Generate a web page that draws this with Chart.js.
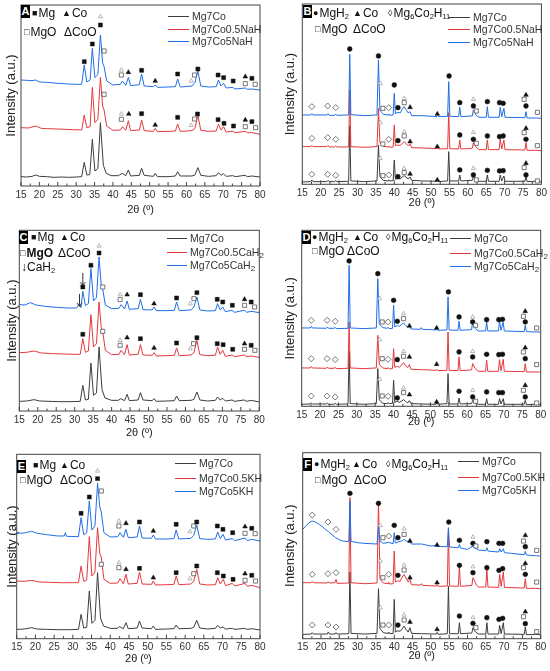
<!DOCTYPE html>
<html>
<head>
<meta charset="utf-8">
<script src="https://cdn.jsdelivr.net/npm/chart.js@4.4.1/dist/chart.umd.min.js"></script>
<style>
  body { margin: 0; background: #fff; font-family: Arial, "Liberation Sans", sans-serif; }
  #fig { position: relative; width: 550px; height: 671px; overflow: hidden; }
  #fig canvas { position: absolute; }
  .txt { position: absolute; white-space: nowrap; line-height: 14px; transform: translateY(-50%); color: #111; }
  .key { font-size: 12px; }
  .key i { font-style: normal; font-size: 9px; margin-right: 1px; vertical-align: 1px; }
  .key sub { font-size: 7.5px; vertical-align: -2px; line-height: 0; }
  .leg { font-size: 10.5px; color: #333; }
  .leg sub { font-size: 8px; vertical-align: -2px; line-height: 0; }
  .swatch { position: absolute; height: 0; border-top: 1.3px solid; }
  .tag { position: absolute; background: #000; color: #fff; font-weight: bold; font-size: 11px;
         width: 9px; height: 13px; line-height: 13px; text-align: center; }
</style>
</head>
<body>
<div id="fig"></div>
<script>
// ---- data (y in arbitrary intensity units) ----
const seriesNaH = ['Mg7Co', 'Mg7Co0.5NaH', 'Mg7Co5NaH'];
const seriesCaH = ['Mg7Co', 'Mg7Co0.5CaH<sub>2</sub>', 'Mg7Co5CaH<sub>2</sub>'];
const seriesKH = ['Mg7Co', 'Mg7Co0.5KH', 'Mg7Co5KH'];
const xTicks = [15, 20, 25, 30, 35, 40, 45, 50, 55, 60, 65, 70, 75, 80];

// panel A (milled, NaH)
const aBlack = [[15,28],[16.5,27],[18,29],[19,33],[20,29],[22,28],[24,26],[26,27],[28,26],[30,27],[31.5,28],[32.2,71],[32.9,33],[33.7,34],[34.4,140],[35.1,45],[35.9,52],[36.6,190],[37.4,62],[38.2,38],[39.5,31],[41.5,31],[42.5,38],[43.5,31],[44.2,48],[44.8,30],[47.2,32],[47.8,53],[48.5,32],[51,29],[51.5,38],[52.1,28],[55,28],[57,30],[57.6,43],[58.3,30],[61.5,30],[62.3,33],[63.1,55],[63.9,32],[66,29],[68.1,31],[68.7,40],[69.4,32],[70,37],[70.8,29],[72.6,31],[73.3,28],[75.9,32],[76.6,28],[77.8,30],[80,27]];
const aRed = [[15,175],[17,174],[19,180],[20.5,173],[22,172],[25,171],[27,170],[29,169],[31.5,168],[32.2,213],[32.9,175],[33.8,178],[34.4,296],[35.1,190],[35.9,200],[36.6,326],[37.2,240],[37.6,228],[38.3,180],[40,167],[42,168],[42.6,178],[43.5,167],[44.2,196],[44.8,166],[47.2,168],[47.8,198],[48.5,166],[51,164],[51.5,173],[52.1,163],[55,164],[57,165],[57.6,186],[58.3,164],[61.5,166],[62.3,172],[63.1,213],[63.9,167],[66,164],[68.1,165],[68.7,186],[69.4,168],[70.1,178],[70.8,162],[72.6,165],[73.2,160],[76,164],[76.6,160],[77.8,160],[80,155]];
const aBlue = [[15,318],[16.5,317],[18,316],[19,318],[20,312],[22,311],[25,308],[28,306],[30,305],[31.5,305],[32.2,363],[32.9,312],[33.8,318],[34.4,413],[35.1,325],[35.9,335],[36.6,453],[37.2,370],[37.6,358],[38.3,315],[40,303],[42,305],[42.6,315],[43.5,302],[44.2,326],[44.8,301],[47.2,304],[47.8,336],[48.5,300],[51,298],[51.5,303],[52.1,296],[55,297],[57,298],[57.6,321],[58.3,297],[61.5,300],[62.3,310],[63.1,345],[63.9,300],[66,297],[68.1,298],[68.7,318],[69.4,300],[70.1,308],[70.8,294],[72.6,296],[73.2,291],[76,294],[76.6,290],[77.8,291],[80,288]];
const aMarks = [
  ['sq',32.2,373],['sq',34.4,426],['sq',36.6,483],['otri',36.6,508],['osq',37.6,405],['otri',42.3,348],['osq',42.3,333],['tri',44.2,341],['sq',47.8,347],['tri',51.5,315],['sq',57.6,336],['otri',61.3,315],['osq',62.2,333],['sq',63.1,351],['sq',68.6,333],['sq',70.1,325],['sq',72.7,315],['tri',76,328],['osq',76,307],['sq',77.8,323],['osq',78.7,305],
  ['osq',37.6,275],['otri',42.3,216],['osq',42.3,200],['tri',44.3,216],['sq',47.8,217],['tri',51.5,183],['sq',57.6,206],['otri',61.3,182],['osq',62.2,201],['sq',63,216],['sq',68.6,199],['sq',70.2,188],['sq',72.8,180],['tri',76,198],['osq',76,178],['sq',77.8,193],['osq',78.8,175]
];

// panel B (hydrided, NaH)
const bBlack = [[15,7],[17.3,8],[17.6,13],[17.9,8],[21.7,8],[22,12],[22.3,8],[23.8,8],[24.1,11],[24.4,8],[27.6,9],[27.9,175],[28.2,10],[32,8],[35.3,10],[35.7,118],[36.1,22],[36.5,18],[37,12],[38.3,10],[38.5,13],[38.8,10],[39.7,11],[40,73],[40.3,15],[41,18],[41.6,16],[42.2,22],[42.7,26],[43.2,21],[43.8,16],[44.3,22],[44.7,12],[47.5,10],[51.5,9],[51.7,13],[52,8],[54.5,10],[54.8,98],[55.1,10],[57.5,10],[57.8,28],[58.1,10],[61.2,12],[61.5,23],[62.2,14],[63,9],[65,9],[65.3,28],[65.6,9],[68.5,9],[68.8,28],[69.2,10],[69.8,25],[70.1,9],[75.5,9],[75.8,23],[76.1,8],[78.5,9],[80,7]];
const bRed = [[15,113],[17.3,113],[17.6,117],[17.9,113],[21.7,113],[22,117],[22.3,112],[23.8,112],[24.1,115],[24.4,112],[27.6,112],[27.9,283],[28.2,113],[32,111],[35.3,113],[35.7,228],[36.1,125],[36.5,120],[37,114],[38.3,112],[38.5,115],[38.8,111],[39.7,112],[40,178],[40.3,116],[41,118],[41.6,116],[42.2,123],[42.7,128],[43.2,122],[43.8,115],[44.3,121],[44.7,110],[47.5,109],[51.5,107],[51.7,110],[52,106],[54.5,107],[54.8,215],[55.1,107],[57.5,106],[57.8,133],[58.1,106],[61.2,108],[61.5,125],[62.2,112],[63,104],[65,104],[65.3,133],[65.6,104],[68.5,104],[68.8,135],[69.2,106],[69.8,133],[70.1,104],[75.5,103],[75.8,125],[76.1,102],[78.5,102],[80,101]];
const bBlue = [[15,208],[17.3,208],[17.6,212],[17.9,208],[21.7,208],[22,212],[22.3,207],[23.8,207],[24.1,211],[24.4,207],[27.6,208],[27.9,390],[28.2,209],[32,206],[35.3,208],[35.7,373],[36.1,222],[36.5,216],[37,210],[38.3,208],[38.5,211],[38.8,207],[39.7,208],[40,273],[40.3,212],[41,216],[41.6,214],[42.2,226],[42.7,233],[43.2,224],[43.8,214],[44.3,218],[44.7,206],[47.5,206],[51.5,203],[51.7,207],[52,203],[54.5,204],[54.8,308],[55.1,204],[57.5,203],[57.8,231],[58.1,203],[61.2,205],[61.5,223],[62.2,208],[63,201],[65,201],[65.3,233],[65.6,201],[68.5,201],[68.8,231],[69.2,203],[69.8,228],[70.1,201],[75.5,200],[75.8,218],[76.1,199],[78.5,199],[80,198]];
const bMarks = [
  ['dot',27.9,406],['dot',35.7,385],['otri',36.2,303],['dot',40,298],['dia',17.6,233],['dia',21.9,235],['dia',24.1,230],['osq',36.9,228],['dia',38.5,230],['dot',41,230],['otri',42.7,258],['osq',42.7,245],['tri',44.3,231],['tri',51.7,211],['dot',54.9,325],['dot',57.8,245],['otri',61.5,255],['dot',61.5,235],['osq',62.3,220],['dot',65.3,248],['dot',68.6,245],['dot',69.6,243],['osq',75.3,255],['tri',75.8,268],['dot',75.8,235],['osq',78.9,216],
  ['dia',17.6,138],['dia',21.9,140],['dia',24.1,135],['otri',36.2,185],['osq',36.9,121],['dia',38.5,135],['dot',41,131],['otri',42.7,158],['osq',42.7,145],['tri',44.3,128],['tri',51.7,113],['dot',57.8,148],['otri',61.5,156],['dot',61.5,135],['osq',62.3,123],['dot',65.3,145],['dot',68.6,143],['dot',69.6,145],['osq',75.3,155],['tri',75.8,168],['dot',75.8,135],['osq',78.9,116],
  ['dia',17.6,30],['dia',21.9,30],['dia',24.1,27],['otri',36.2,78],['osq',36.9,26],['dia',38.5,28],['dot',41,23],['otri',42.7,48],['osq',42.7,35],['tri',44.3,31],['tri',51.7,13],['dot',57.8,43],['otri',61.5,48],['dot',61.5,28],['osq',62.3,13],['dot',65.3,42],['dot',68.6,40],['dot',69.6,41],['osq',75.3,50],['tri',75.8,63],['dot',75.8,28],['osq',78.9,10]
];

// panel C (milled, CaH2)
const cBlack = [[15,29],[17,30],[19,34],[20.5,30],[23,29],[26,28],[29,28],[31.5,29],[32.2,77],[32.9,33],[33.7,35],[34.4,144],[35.1,47],[35.9,54],[36.6,192],[37.4,64],[38.2,39],[40,32],[41.8,32],[42.5,37],[43.5,31],[44.2,50],[44.8,31],[47.2,33],[47.8,55],[48.5,33],[51,31],[51.5,37],[52.1,29],[55,30],[57,31],[57.6,45],[58.3,31],[61.5,32],[62.3,35],[63.1,57],[63.9,33],[66,30],[68.1,32],[68.7,42],[69.4,33],[70.1,38],[70.8,30],[72.6,33],[73.3,29],[75.9,33],[76.6,29],[77.8,32],[80,27]];
const cRed = [[15,175],[17,176],[19,180],[21,174],[24,172],[27,171],[30,170],[31.5,170],[32.2,217],[32.9,176],[33.7,180],[34.4,289],[35.1,192],[35.9,202],[36.6,327],[37.2,250],[37.6,238],[38.3,182],[40,169],[42,170],[42.6,182],[43.5,169],[44.2,199],[44.8,168],[47.2,170],[47.8,199],[48.5,168],[51,167],[51.5,175],[52.1,165],[55,166],[57,167],[57.6,189],[58.3,166],[61.5,168],[62.3,175],[63.1,212],[63.9,169],[66,166],[68.1,167],[68.7,192],[69.4,170],[70.1,182],[70.8,164],[72.6,168],[73.3,163],[76,168],[76.6,163],[77.8,165],[80,161]];
const cBlue = [[15,319],[16.5,318],[18,325],[19.5,318],[22,314],[25,311],[28,309],[30.5,309],[31.3,322],[31.7,310],[32.2,359],[32.9,316],[33.7,322],[34.4,427],[35.1,330],[35.9,340],[36.6,462],[37.2,375],[37.6,365],[38.3,318],[40,307],[42,308],[42.6,319],[43.5,306],[44.2,330],[44.8,305],[47.2,307],[47.8,335],[48.5,304],[51,303],[51.5,312],[52.1,301],[55,301],[57,302],[57.6,327],[58.3,301],[61.5,303],[62.3,312],[63.1,342],[63.9,303],[66,300],[68.1,301],[68.7,322],[69.4,303],[70.1,312],[70.8,298],[72.6,302],[73.3,296],[76,302],[76.6,296],[77.8,299],[80,295]];
const cMarks = [
  ['arr',31.3,332],['arr',32.2,394],['sq',32.2,372],['sq',34.4,437],['sq',36.6,474],['otri',36.6,495],['osq',37.6,372],['otri',42.3,349],['osq',42.3,334],['tri',44.2,349],['sq',47.8,349],['tri',51.5,322],['sq',57.6,339],['otri',61.3,322],['osq',62.3,337],['sq',63.1,355],['sq',68.6,335],['sq',70.1,327],['sq',72.7,317],['tri',76,335],['osq',76,317],['sq',77.8,327],['osq',78.7,312],
  ['sq',32.2,230],['osq',37.6,239],['otri',42.3,212],['osq',42.3,197],['tri',44.2,220],['sq',47.8,217],['tri',51.5,189],['sq',57.6,204],['otri',61.3,187],['osq',62.2,202],['sq',63.1,220],['sq',68.6,202],['sq',70.2,199],['sq',72.8,185],['tri',76,202],['osq',76,185],['sq',77.8,197],['osq',78.8,182]
];

// panel D (hydrided, CaH2)
const dBlack = [[15,6],[17.3,7],[17.6,10],[17.9,7],[21.7,7],[22,10],[22.3,6],[23.8,6],[24.1,9],[24.4,6],[27.6,7],[27.9,165],[28.2,8],[32,6],[35.3,8],[35.7,113],[36.1,20],[36.5,15],[37,9],[38.3,8],[38.5,11],[38.8,8],[39.7,9],[40,78],[40.3,12],[41,15],[41.6,12],[42.2,16],[42.7,20],[43.2,15],[43.8,10],[44.3,17],[44.7,8],[47.5,7],[51.5,6],[51.7,10],[52,6],[54.5,8],[54.8,98],[55.1,7],[57.5,7],[57.8,25],[58.1,7],[61.2,8],[61.5,18],[62.2,11],[63,6],[65,6],[65.3,23],[65.6,6],[68.5,6],[68.8,23],[69.2,7],[69.8,23],[70.1,6],[75.5,6],[75.8,18],[76.1,5],[78.5,6],[80,5]];
const dRed = [[15,115],[17.3,115],[17.6,119],[17.9,115],[21.7,114],[22,118],[22.3,114],[23.8,114],[24.1,117],[24.4,113],[27.6,114],[27.9,253],[28.2,115],[32,113],[35.3,115],[35.7,213],[36.1,126],[36.5,121],[37,115],[38.3,113],[38.5,116],[38.8,112],[39.7,113],[40,173],[40.3,117],[41,120],[41.6,117],[42.2,124],[42.7,131],[43.2,123],[43.8,116],[44.3,125],[44.7,111],[47.5,110],[51.5,108],[51.7,111],[52,107],[54.5,108],[54.8,223],[55.1,108],[57.5,107],[57.8,148],[58.1,107],[61.2,109],[61.5,128],[62.2,113],[63,105],[65,105],[65.3,138],[65.6,105],[68.5,105],[68.8,140],[69.2,107],[69.8,141],[70.1,105],[75.5,104],[75.8,128],[76.1,103],[78.5,103],[80,103]];
const dBlue = [[15,235],[17.3,235],[17.6,240],[17.9,235],[21.7,234],[22,238],[22.3,234],[23.8,234],[24.1,237],[24.4,233],[27.6,234],[27.9,423],[28.2,235],[32,233],[35.3,235],[35.7,383],[36.1,248],[36.5,242],[37,236],[38.3,234],[38.5,237],[38.8,233],[39.7,234],[40,303],[40.3,238],[41,242],[41.6,240],[42.2,246],[42.7,250],[43.2,244],[43.8,237],[44.3,243],[44.7,232],[47.2,231],[47.5,236],[47.8,231],[51.5,229],[51.7,232],[52,228],[54.5,229],[54.8,328],[55.1,229],[57.5,228],[57.8,255],[58.1,228],[61.2,230],[61.5,253],[62.2,233],[63,226],[65,226],[65.3,253],[65.6,226],[68.5,226],[68.8,255],[69.2,228],[69.8,252],[70.1,226],[75.5,224],[75.8,243],[76.1,224],[78.5,223],[80,223]];
const dMarks = [
  ['dot',27.9,436],['dot',35.7,398],['otri',36.2,323],['dot',40,318],['dia',17.6,258],['dia',21.9,258],['dia',24.1,255],['osq',36.9,253],['dia',38.5,253],['dot',41,255],['otri',42.7,278],['osq',42.7,263],['tri',44.3,241],['tri',51.7,235],['dot',54.9,343],['dot',57.8,268],['otri',61.5,268],['dot',61.5,253],['osq',62.3,243],['dot',65.3,260],['dot',68.6,260],['dot',69.6,261],['osq',75.3,270],['tri',75.8,285],['dot',75.8,253],['osq',78.9,235],
  ['dia',17.6,143],['dia',21.9,143],['dia',24.1,140],['otri',36.2,200],['osq',36.9,143],['dia',38.5,141],['dot',41,140],['otri',42.7,165],['osq',42.7,150],['tri',44.3,148],['tri',51.7,126],['dot',57.8,163],['otri',61.5,165],['dot',61.5,148],['dot',65.3,156],['dot',68.6,155],['dot',69.6,156],['osq',75.3,163],['tri',75.8,176],['dot',75.8,143],['osq',78.9,125],
  ['dia',17.6,31],['dia',21.9,31],['dia',24.1,28],['otri',36.2,81],['osq',36.9,31],['dia',38.5,30],['dot',41,25],['otri',42.7,55],['osq',42.7,41],['tri',44.3,35],['tri',51.7,13],['dot',57.8,45],['otri',61.5,48],['dot',61.5,28],['osq',62.3,15],['dot',65.3,43],['dot',68.6,41],['dot',69.6,41],['osq',75.3,48],['tri',75.8,63],['dot',75.8,28],['osq',78.9,10]
];

// panel E (milled, KH)
const eBlack = [[15,28],[17,29],[19,33],[20.5,29],[23,28],[26,27],[29,27],[31.5,28],[32.2,73],[32.9,32],[33.7,34],[34.4,143],[35.1,46],[35.9,55],[36.6,198],[37.4,62],[38.2,38],[40,31],[41.8,31],[42.5,36],[43.5,30],[44.2,48],[44.8,30],[47.2,32],[47.8,53],[48.5,32],[51,30],[51.5,38],[52.1,28],[55,29],[57,30],[57.6,41],[58.3,30],[61.5,31],[62.3,34],[63.1,55],[63.9,32],[66,29],[68.1,31],[68.7,40],[69.4,32],[70.1,35],[70.8,29],[72.6,31],[73.3,28],[75.9,31],[76.6,28],[77.8,30],[80,26]];
const eRed = [[15,173],[17,172],[19,175],[21,170],[24,169],[27,168],[30,168],[31.5,168],[32.2,218],[32.9,172],[33.7,176],[34.4,306],[35.1,188],[35.9,200],[36.6,333],[37.2,255],[37.6,245],[38.3,178],[40,166],[42,167],[42.6,180],[43.5,165],[44.2,193],[44.8,164],[47.2,166],[47.8,200],[48.5,164],[51,163],[51.5,173],[52.1,161],[55,162],[57,163],[57.6,188],[58.3,162],[61.5,164],[62.3,172],[63.1,208],[63.9,164],[66,161],[68.1,162],[68.7,183],[69.4,164],[70.2,178],[70.8,159],[72.6,166],[73.3,158],[76,166],[76.6,157],[77.8,160],[80,153]];
const eBlue = [[15,316],[17,317],[19,322],[20.5,316],[23,312],[26,308],[27.7,308],[28,318],[28.3,307],[31.5,306],[32.2,363],[32.9,312],[33.7,318],[34.4,413],[35.1,326],[35.9,338],[36.6,466],[37.2,395],[37.6,380],[38.3,318],[40,305],[42,306],[42.6,318],[43.5,304],[44.2,328],[44.8,303],[47.2,305],[47.8,338],[48.5,302],[51,301],[51.5,311],[52.1,299],[55,299],[57,300],[57.6,326],[58.3,299],[61.5,301],[62.3,310],[63.1,341],[63.9,300],[66,298],[68.1,299],[68.7,320],[69.4,300],[70.1,313],[70.8,296],[72.6,300],[73.3,294],[76,302],[76.6,294],[77.8,298],[80,293]];
const eMarks = [
  ['sq',32.2,376],['sq',34.4,425],['sq',36.6,480],['otri',36.6,503],['osq',37.6,443],['otri',42.3,353],['osq',42.3,338],['tri',44.2,346],['sq',47.8,350],['tri',51.5,323],['sq',57.6,343],['otri',61.3,321],['osq',62.3,338],['sq',63.1,350],['sq',68.6,338],['sq',70.1,328],['sq',72.7,318],['tri',76,336],['osq',76,316],['sq',77.8,331],['osq',78.7,315],
  ['osq',37.6,223],['otri',42.3,228],['osq',42.3,213],['tri',44.2,208],['sq',47.8,211],['tri',51.5,183],['sq',57.6,198],['otri',61.3,180],['osq',62.3,195],['sq',63.1,218],['sq',68.6,198],['sq',70.2,188],['sq',72.8,178],['tri',76,195],['osq',76,175],['sq',77.8,190],['osq',78.8,173]
];

// panel F (hydrided, KH)
const fBlack = [[15,13],[17.3,14],[17.6,18],[17.9,14],[21.7,14],[22,20],[22.3,14],[23.8,14],[24.1,18],[24.4,14],[27.6,15],[27.9,200],[28.2,16],[32,14],[35.3,16],[35.7,150],[36.1,30],[36.5,26],[37,18],[38.3,16],[38.5,20],[38.8,15],[39.7,16],[40,118],[40.3,20],[41,24],[41.6,22],[42.2,30],[42.7,38],[43.2,28],[43.8,20],[44.3,33],[44.7,16],[47.5,15],[51.5,14],[51.7,19],[52,13],[54.5,15],[54.8,158],[55.1,15],[57.5,15],[57.8,48],[58.1,15],[61.2,17],[61.5,33],[62.2,20],[63,14],[65,14],[65.3,48],[65.6,14],[68.5,14],[68.8,40],[69.2,15],[69.8,48],[70.1,14],[75.5,13],[75.8,35],[76.1,12],[78.5,13],[80,12]];
const fRed = [[15,168],[17.3,168],[17.6,172],[17.9,168],[21.7,167],[22,171],[22.3,167],[23.8,168],[24.1,178],[24.4,166],[27.6,167],[27.9,423],[28.2,168],[32,165],[35.3,167],[35.7,413],[36.1,180],[36.5,174],[37,167],[38.3,165],[38.5,169],[38.8,164],[39.7,165],[40,263],[40.3,170],[41,174],[41.6,172],[42.2,185],[42.7,193],[43.2,182],[43.8,170],[44.3,178],[44.7,162],[47.2,161],[47.5,165],[47.8,160],[51.5,158],[51.7,162],[52,157],[54.5,158],[54.8,328],[55.1,158],[57.5,157],[57.8,218],[58.1,157],[61.2,160],[61.5,183],[62,172],[62.5,160],[63,155],[65,155],[65.3,208],[65.6,155],[68.5,154],[68.8,193],[69.2,157],[69.8,200],[70.1,154],[75.5,152],[75.8,180],[76.1,151],[78.5,151],[80,150]];
const fBlue = [[15,328],[16,340],[17,350],[17.6,353],[18.5,350],[19.5,343],[20.5,335],[21.5,325],[22,322],[23,312],[24,303],[25,297],[26,293],[27.6,291],[27.9,413],[28.2,292],[30,288],[32,286],[35.3,284],[35.7,338],[36.1,292],[36.5,290],[37,286],[38.5,289],[39.7,285],[40,318],[40.3,287],[41,290],[42.2,294],[42.7,298],[43.2,293],[44.3,292],[44.7,284],[47.5,284],[50,278],[51.7,280],[52,277],[54.5,276],[54.8,333],[55.1,275],[57.5,273],[57.8,283],[58.1,272],[60,268],[61.5,278],[62.2,271],[63,266],[65,264],[65.3,273],[65.6,263],[68.5,260],[68.8,270],[69.2,260],[69.8,270],[70.1,258],[72,256],[75.5,252],[75.8,262],[76.1,251],[78.5,249],[80,248]];
const fMarks = [
  ['dia',17.6,371],['dia',21.9,350],['dia',24.1,328],['dot',27.9,436],['dot',35.7,406],['otri',36.2,340],['osq',36.9,303],['dia',38.5,308],['dot',40,340],['dot',41,303],['otri',42.7,330],['osq',42.7,313],['tri',44.3,293],['tri',51.7,281],['dot',54.9,350],['dot',57.8,295],['otri',61.5,305],['dot',61.5,286],['osq',62.3,278],['dot',65.3,291],['dot',68.6,286],['dot',69.6,286],['osq',75.3,293],['tri',75.8,310],['dot',75.8,276],['osq',78.9,265],
  ['dia',17.6,193],['dia',21.9,195],['dia',24.1,198],['otri',36.2,233],['osq',36.9,183],['dia',38.5,193],['dot',41,190],['otri',42.7,221],['osq',42.7,206],['tri',44.3,183],['tri',51.7,168],['dot',57.8,220],['otri',61.5,216],['dot',61.5,198],['dot',65.3,213],['dot',68.6,205],['dot',69.6,210],['osq',75.3,213],['tri',75.8,226],['dot',75.8,193],['osq',78.9,170],
  ['dia',17.6,41],['dia',21.9,41],['dia',24.1,35],['otri',36.2,93],['osq',36.9,41],['dia',38.5,41],['dot',41,41],['otri',42.7,71],['osq',42.7,56],['tri',44.3,50],['tri',51.7,28],['dot',57.8,68],['otri',61.5,63],['dot',61.5,46],['osq',62.3,33],['dot',65.3,63],['dot',68.6,58],['dot',69.6,61],['osq',75.3,66],['tri',75.8,81],['dot',75.8,45],['osq',78.9,21]
];

// ---- styling ----
const lineColors = ['#3d3d3d', '#e5383e', '#1f6ee6'];
const FONT = 'Arial, "Liberation Sans", sans-serif';
Chart.defaults.font.family = FONT;

const arrowImg = document.createElement('canvas');
arrowImg.width = 7; arrowImg.height = 13;
(function () {
  const g = arrowImg.getContext('2d');
  g.strokeStyle = '#333'; g.lineWidth = 1;
  g.beginPath();
  g.moveTo(3.5, 0); g.lineTo(3.5, 12);
  g.moveTo(1, 9); g.lineTo(3.5, 12.5); g.lineTo(6, 9);
  g.stroke();
})();

const markStyles = {
  sq:   { pointStyle: 'rect',     radius: 2.8, bg: '#111', border: '#111', bw: 0.5 },
  osq:  { pointStyle: 'rect',     radius: 2.9, bg: '#fff', border: '#555', bw: 0.8 },
  tri:  { pointStyle: 'triangle', radius: 2.7, bg: '#111', border: '#111', bw: 0.5 },
  otri: { pointStyle: 'triangle', radius: 2.4, bg: '#fff', border: '#999', bw: 0.7 },
  dot:  { pointStyle: 'circle',   radius: 2.4, bg: '#111', border: '#111', bw: 0.5 },
  dia:  { pointStyle: 'rectRot',  radius: 3.0, bg: '#fff', border: '#555', bw: 0.8 },
  arr:  { pointStyle: arrowImg,   radius: 4,   bg: '#333', border: '#333', bw: 1 }
};

// frame + inward bottom ticks
const frameTicks = {
  id: 'frameTicks',
  afterDatasetsDraw(chart) {
    const { ctx, chartArea: a, scales: { x } } = chart;
    ctx.save();
    ctx.strokeStyle = '#444';
    ctx.lineWidth = 1;
    ctx.strokeRect(a.left, a.top, a.right - a.left, a.bottom - a.top);
    for (let i = 0; i < xTicks.length; i++) {
      const px = x.getPixelForValue(xTicks[i]);
      ctx.beginPath(); ctx.moveTo(px, a.bottom); ctx.lineTo(px, a.bottom - 4); ctx.stroke();
      if (i < xTicks.length - 1) {
        const pm = x.getPixelForValue((xTicks[i] + xTicks[i + 1]) / 2);
        ctx.beginPath(); ctx.moveTo(pm, a.bottom); ctx.lineTo(pm, a.bottom - 2.5); ctx.stroke();
      }
    }
    ctx.restore();
  }
};

const kMgH2 = '<i>&#9679;</i>MgH<sub>2</sub>';
const kCo = '<i>&#9650;</i>Co';
const kHyd = '<i>&#9674;</i>Mg<sub>6</sub>Co<sub>2</sub>H<sub>11</sub>';
const kMgO = '<i>&#9633;</i>MgO';
const kCoO = '&Delta;CoO';
const kMg = '<i>&#9632;</i>Mg';

// geometry per panel: cell box, chart area inside it, title offsets, text positions
const panels = [
  { tag: 'A', cell: [0, 0, 275, 222], area: [21, 5, 260, 186], ymax: 543, yPad: 3.2, xPad: 5.4,
    lines: [aBlack, aRed, aBlue], marks: aMarks, names: seriesNaH,
    tagPos: [21, 5], key: [[32, 13, kMg], [62, 13, kCo], [24, 32, kMgO], [64, 32, kCoO]],
    leg: [168, 192, [16, 28.5, 41]] },
  { tag: 'B', cell: [275, 0, 275, 222], area: [27.3, 4, 266.7, 184.3], ymax: 541, yPad: 7.2, xPad: 12.4,
    lines: [bBlack, bRed, bBlue], marks: bMarks, names: seriesNaH,
    tagPos: [303, 5], key: [[313, 13, kMgH2], [353, 13, kCo], [388, 13, kHyd], [315, 29, kMgO], [353, 29, kCoO]],
    leg: [448, 473, [17, 29, 42]] },
  { tag: 'C', cell: [0, 222, 275, 224], area: [19.3, 8.3, 259.3, 189], ymax: 542, yPad: 4.2, xPad: 6.4,
    lines: [cBlack, cRed, cBlue], marks: cMarks, names: seriesCaH,
    tagPos: [19, 231], key: [[31, 237, kMg], [60, 237, kCo], [20, 253, '<b>' + kMgO + '</b>'], [58, 253, kCoO], [21, 267, '&darr;CaH<sub>2</sub>']],
    leg: [167, 190, [238, 252, 265]] },
  { tag: 'D', cell: [275, 222, 275, 224], area: [26.7, 8.3, 265.7, 184.3], ymax: 528, yPad: 7.2, xPad: 17.4,
    lines: [dBlack, dRed, dBlue], marks: dMarks, names: seriesCaH,
    tagPos: [302, 231], key: [[312, 237, kMgH2], [353, 237, kCo], [386, 237, kHyd], [312, 251, kMgO], [347, 251, kCoO]],
    leg: [450, 474, [238, 253, 266]] },
  { tag: 'E', cell: [0, 446, 275, 225], area: [16.7, 8.3, 260, 192.7], ymax: 553, yPad: 4.2, xPad: 5.4,
    lines: [eBlack, eRed, eBlue], marks: eMarks, names: seriesKH,
    tagPos: [17, 460], key: [[33, 465, kMg], [60, 465, kCo], [20, 480, kMgO], [60, 480, kCoO]],
    leg: [175, 199, [463, 478, 491]] },
  { tag: 'F', cell: [275, 446, 275, 225], area: [27.7, 6.7, 265.7, 192.7], ymax: 558, yPad: 7.2, xPad: 8.4,
    lines: [fBlack, fRed, fBlue], marks: fMarks, names: seriesKH,
    tagPos: [303, 458], key: [[314, 464, kMgH2], [352, 464, kCo], [386, 464, kHyd], [315, 480, kMgO], [354, 480, kCoO]],
    leg: [458, 482, [461, 477, 490]] }
];

const fig = document.getElementById('fig');

function addText(cls, x, y, html) {
  const d = document.createElement('div');
  d.className = 'txt ' + cls;
  d.style.left = x + 'px';
  d.style.top = y + 'px';
  d.innerHTML = html;
  fig.appendChild(d);
  return d;
}

function markerDatasets(marks) {
  const out = [];
  Object.keys(markStyles).forEach(sym => {
    const pts = marks.filter(m => m[0] === sym).map(m => ({ x: m[1], y: m[2] }));
    if (!pts.length) return;
    const s = markStyles[sym];
    out.push({
      type: 'scatter', data: pts, order: 0, showLine: false,
      pointStyle: s.pointStyle, pointRadius: s.radius, pointHoverRadius: s.radius,
      pointBackgroundColor: s.bg, pointBorderColor: s.border, pointBorderWidth: s.bw
    });
  });
  return out;
}

panels.forEach(p => {
  const [cx, cy, cw, ch] = p.cell;
  const [al, at, ar, ab] = p.area;
  const cv = document.createElement('canvas');
  cv.width = cw; cv.height = ch;
  cv.style.left = cx + 'px'; cv.style.top = cy + 'px';
  cv.style.width = cw + 'px'; cv.style.height = ch + 'px';
  fig.appendChild(cv);

  const traces = p.lines.map((arr, i) => ({
    type: 'line', label: p.names[i], order: 3 - i,
    data: arr.map(([x, y]) => ({ x, y })),
    borderColor: lineColors[i], borderWidth: 1, pointRadius: 0, tension: 0
  }));

  new Chart(cv, {
    type: 'line',
    data: { datasets: traces.concat(markerDatasets(p.marks)) },
    options: {
      responsive: false,
      animation: false,
      events: [],
      layout: { padding: { left: 0, top: at, right: cw - ar, bottom: 0 } },
      plugins: { legend: { display: false }, tooltip: { enabled: false } },
      scales: {
        x: {
          type: 'linear', min: 15, max: 80,
          afterBuildTicks: s => { s.ticks = xTicks.map(v => ({ value: v })); },
          afterFit: s => { s.height = ch - ab; },
          grid: { display: false, drawTicks: false },
          border: { display: false },
          ticks: { color: '#333', font: { size: 10 }, padding: 3, maxRotation: 0, autoSkip: false },
          title: { display: true, text: '2θ (º)', color: '#222', font: { size: 11 }, padding: { top: 0, bottom: p.xPad } }
        },
        y: {
          min: 0, max: p.ymax,
          afterFit: s => { s.width = al; },
          grid: { display: false, drawTicks: false },
          border: { display: false },
          ticks: { display: false },
          title: { display: true, text: 'Intensity (a.u.)', color: '#222', font: { size: 13 }, padding: { top: p.yPad, bottom: 0 } }
        }
      }
    },
    plugins: [frameTicks]
  });

  // panel letter
  const t = document.createElement('div');
  t.className = 'tag';
  t.style.left = p.tagPos[0] + 'px';
  t.style.top = p.tagPos[1] + 'px';
  t.textContent = p.tag;
  fig.appendChild(t);

  // phase key
  p.key.forEach(k => addText('key', k[0], k[1], k[2]));

  // series legend
  const [lx, tx, rows] = p.leg;
  rows.forEach((ry, i) => {
    const sw = document.createElement('div');
    sw.className = 'swatch';
    sw.style.left = lx + 'px';
    sw.style.top = ry + 'px';
    sw.style.width = (tx - lx - 3) + 'px';
    sw.style.borderColor = lineColors[i];
    fig.appendChild(sw);
    addText('leg', tx, ry, p.names[i]);
  });
});
</script>
</body>
</html>
